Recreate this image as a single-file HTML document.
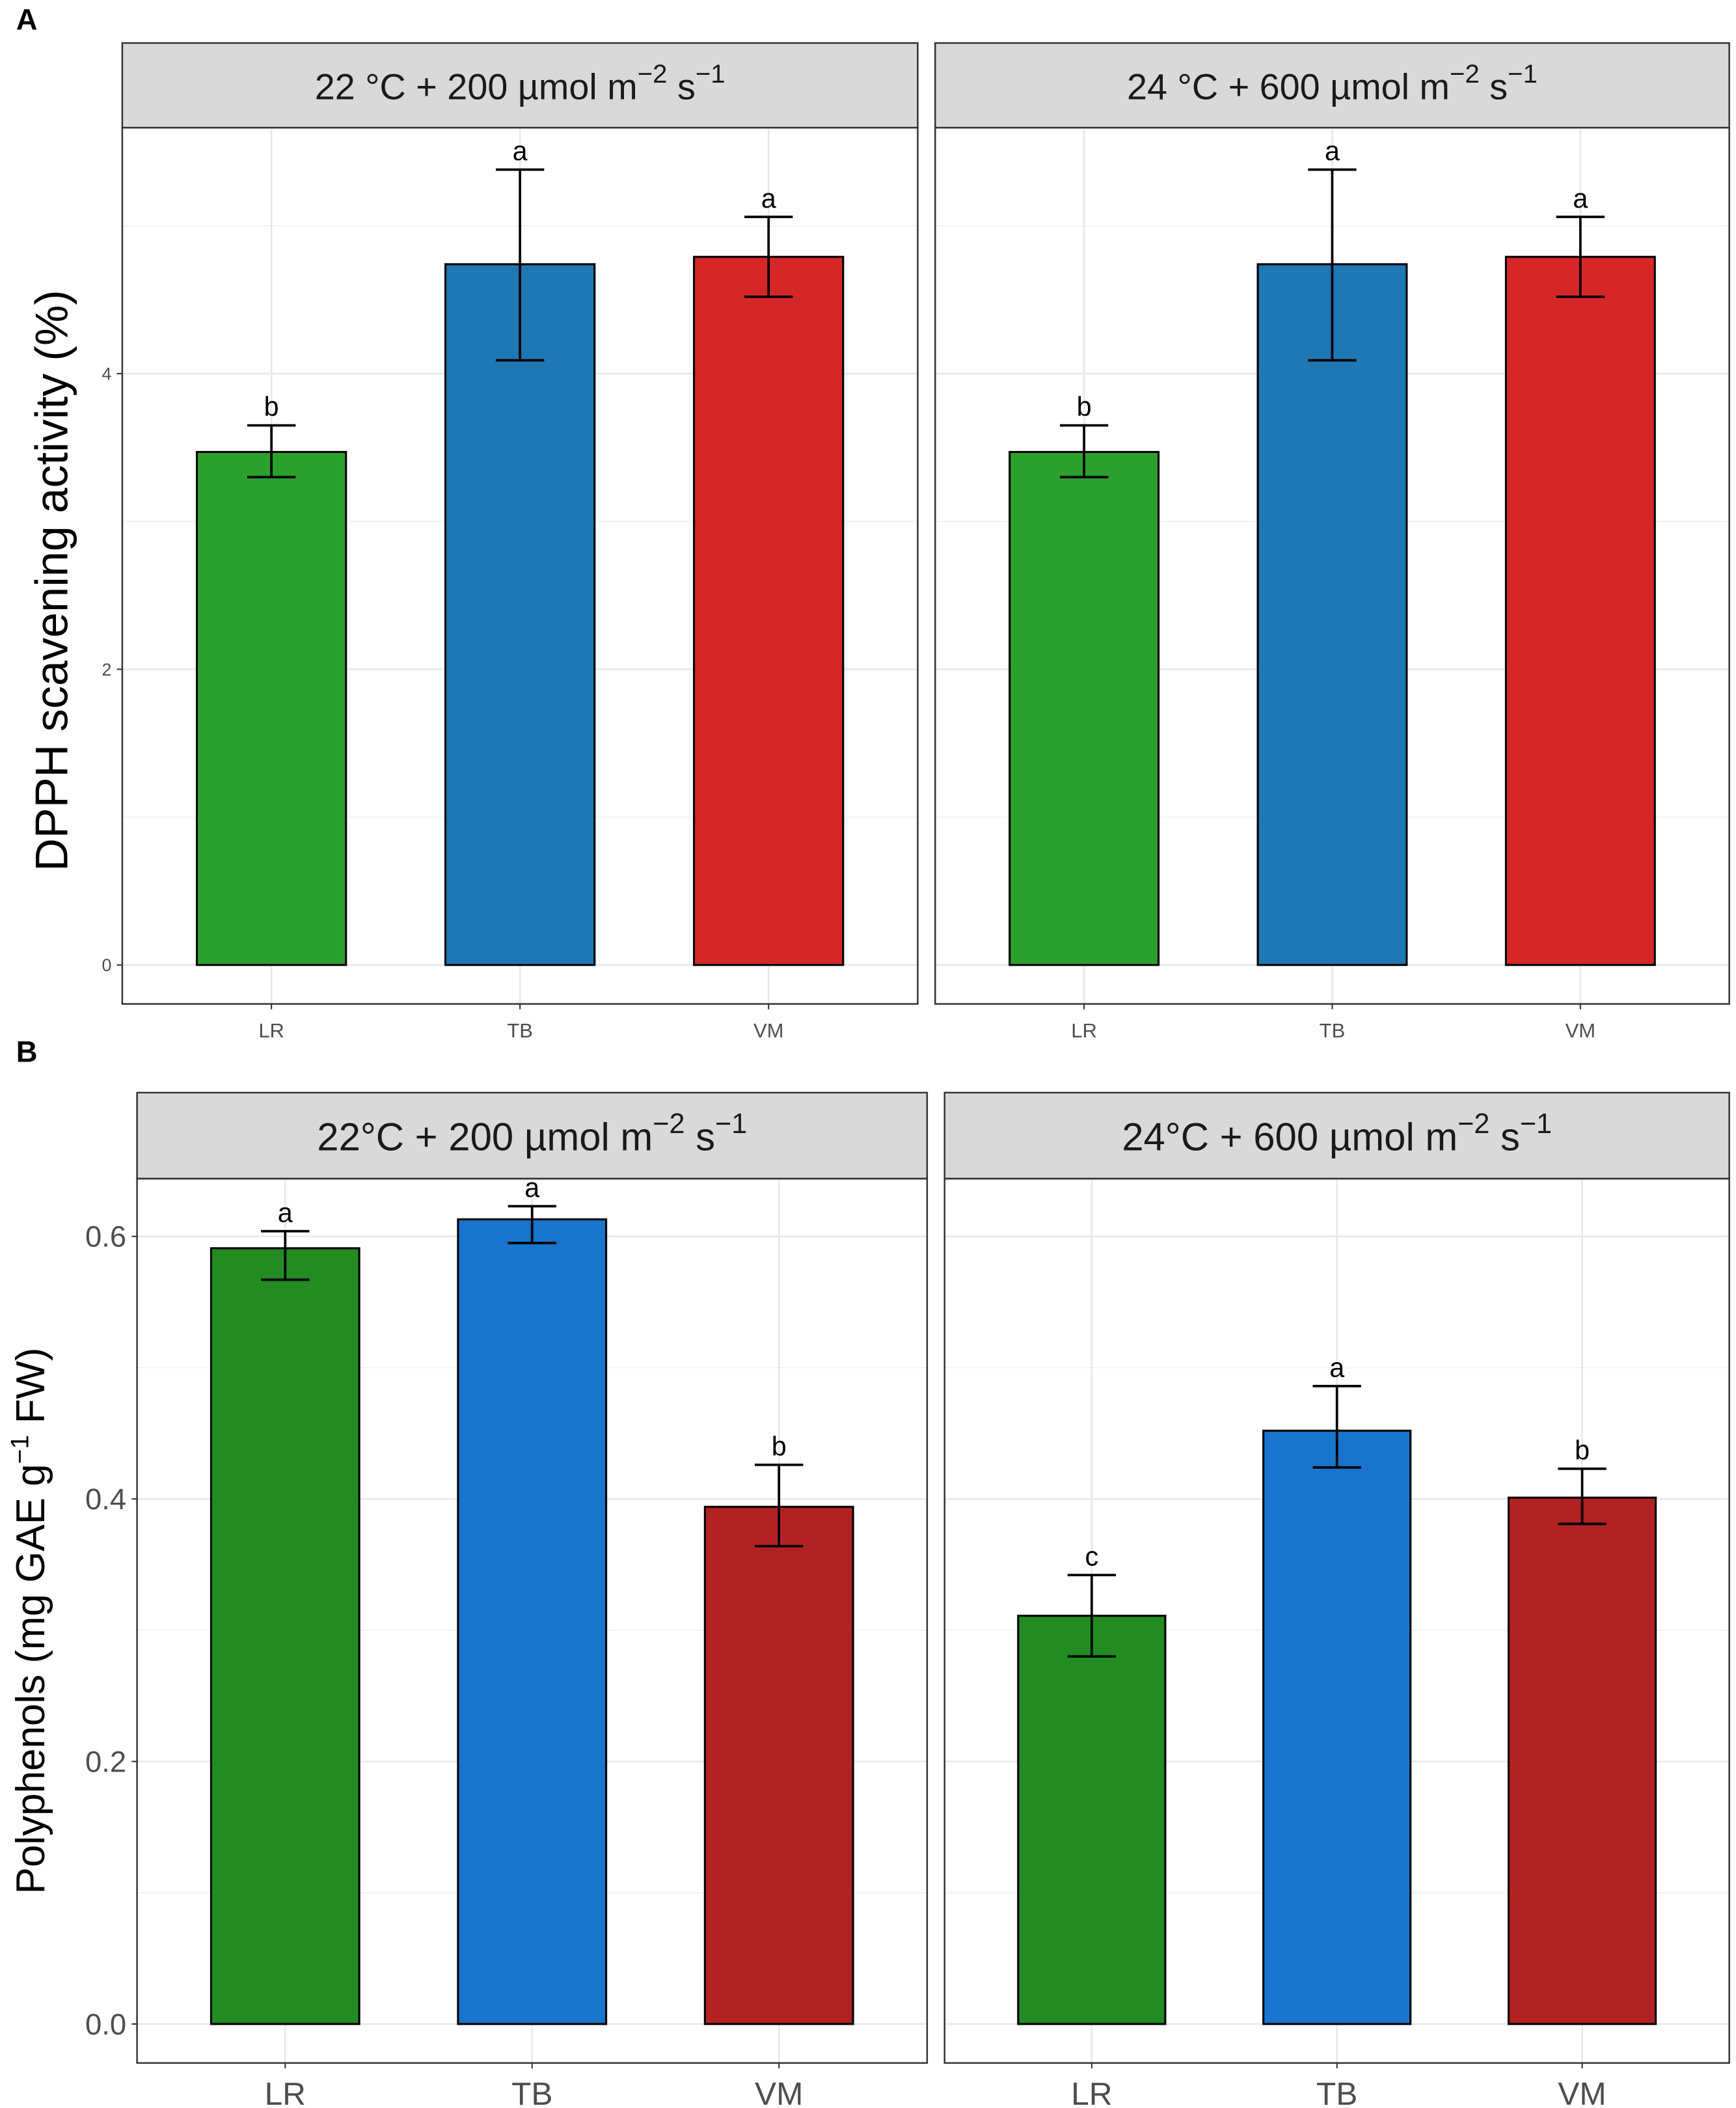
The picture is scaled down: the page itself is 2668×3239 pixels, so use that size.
<!DOCTYPE html>
<html><head><meta charset="utf-8"><style>html,body{margin:0;padding:0;background:#fff}svg{display:block}</style></head>
<body>
<svg id="chart" xmlns="http://www.w3.org/2000/svg" width="2668" height="3239" viewBox="0 0 1292 1568.5" preserveAspectRatio="none" font-family="Liberation Sans, sans-serif">
<rect width="1292" height="1568.5" fill="#fff"/>
<text x="12" y="22" font-size="22" font-weight="bold">A</text>
<text x="12" y="790" font-size="22" font-weight="bold">B</text>
<text transform="translate(50,432) rotate(-90)" text-anchor="middle" font-size="34">DPPH scavening activity (%)</text>
<text transform="translate(33,1206) rotate(-90)" text-anchor="middle" font-size="30">Polyphenols (mg GAE g<tspan dy="-12" font-size="19">−1</tspan><tspan dy="12"> FW)</tspan></text>
<g id="g"></g>
</svg>
<script>
const categories = ["LR","TB","VM"];
const aStrips = ["22 °C + 200 µmol m","24 °C + 600 µmol m"];
const aMeans = [[3.47,4.74,4.79],[3.47,4.74,4.79]];
const aLow = [[3.30,4.09,4.52],[3.30,4.09,4.52]];
const aHigh = [[3.65,5.38,5.06],[3.65,5.38,5.06]];
const aLetters = [["b","a","a"],["b","a","a"]];
const aTicks = [0,2,4];
const bStrips = ["22°C + 200 µmol m","24°C + 600 µmol m"];
const bMeans = [[0.591,0.613,0.394],[0.311,0.452,0.401]];
const bLow = [[0.567,0.595,0.364],[0.280,0.424,0.381]];
const bHigh = [[0.604,0.623,0.426],[0.342,0.486,0.423]];
const bLetters = [["a","a","b"],["c","a","b"]];
const bTicks = [0,0.2,0.4,0.6];

const NS="http://www.w3.org/2000/svg";
const root=document.getElementById('g');
function el(t,a,p){const e=document.createElementNS(NS,t);for(const k in a)e.setAttribute(k,a[k]);(p||root).appendChild(e);return e;}

function panel(cfg){
  const {x0,x1,stripTop,top,bottom,y0px,pxPerUnit,means,low,high,letters,strip,colors,ticks,minors,showY,tickFs,xFs,xLabY,stripFs,letFs,tickFmt}=cfg;
  const y=v=>y0px-v*pxPerUnit;
  const unit=(x1-x0)/3.2;
  const xs=i=>x0+(i+0.6)*unit;
  const bw=0.6*unit;
  const g=el('g',{});
  
  
  const s=el('rect',{x:x0,y:stripTop,width:x1-x0,height:top-stripTop,fill:'#d9d9d9',stroke:'#333','stroke-width':1.2},g);
  
  
  const st=el('text',{x:(x0+x1)/2,y:stripTop+(top-stripTop)/2+stripFs*0.38,'text-anchor':'middle','font-size':stripFs,fill:'#1a1a1a'},g);
  st.textContent=strip;
  const sup=el('tspan',{dy:-stripFs*0.45,'font-size':stripFs*0.72},st);sup.textContent='−2';
  const t2=el('tspan',{dy:stripFs*0.45},st);t2.textContent=' s';
  const sup2=el('tspan',{dy:-stripFs*0.45,'font-size':stripFs*0.72},st);sup2.textContent='−1';
  
  
  minors.forEach(v=>{if(y(v)>top)el('line',{x1:x0,x2:x1,y1:y(v),y2:y(v),stroke:'#f0f0f0','stroke-width':0.8},g);});
  ticks.forEach(v=>{el('line',{x1:x0,x2:x1,y1:y(v),y2:y(v),stroke:'#e8e8e8','stroke-width':1.3},g);
    if(showY){const tl=el('text',{x:x0-8,y:y(v)+tickFs*0.35,'text-anchor':'end','font-size':tickFs,fill:'#4d4d4d'},g);tl.textContent=tickFmt(v);
      
      
      el('line',{x1:x0-4,x2:x0,y1:y(v),y2:y(v),stroke:'#333'},g);}});
  categories.forEach((c,i)=>{el('line',{x1:xs(i),x2:xs(i),y1:top,y2:bottom,stroke:'#e8e8e8','stroke-width':1.3},g);});
  categories.forEach((c,i)=>{
    const b=el('rect',{x:xs(i)-bw/2,y:y(means[i]),width:bw,height:y(0)-y(means[i]),fill:colors[i],stroke:'#000','stroke-width':1.5},g);
    
    
    const w=cfg.whisk;
    const e=el('path',{d:`M${xs(i)-w},${y(high[i])}H${xs(i)+w}M${xs(i)},${y(high[i])}V${y(low[i])}M${xs(i)-w},${y(low[i])}H${xs(i)+w}`,stroke:'#000','stroke-width':1.8,fill:'none'},g);
    
    
    const l=el('text',{x:xs(i),y:y(high[i])-7,'text-anchor':'middle','font-size':letFs,fill:'#000'},g);l.textContent=letters[i];
    
    
    el('line',{x1:xs(i),x2:xs(i),y1:bottom,y2:bottom+4,stroke:'#333'},g);
    const xl=el('text',{x:xs(i),y:xLabY,'text-anchor':'middle','font-size':xFs,fill:'#4d4d4d'},g);xl.textContent=c;
    
    
  });
  el('rect',{x:x0,y:top,width:x1-x0,height:bottom-top,fill:'none',stroke:'#333','stroke-width':1.2},g);
}
const colA=['#2ca02c','#1f77b4','#d62728'], colB=['#228b22','#1874cd','#b22222'];
[[91,683],[696,1287]].forEach((p,k)=>panel({id:'a'+(k+1),x0:p[0],x1:p[1],stripTop:32,top:95,bottom:747,y0px:718,pxPerUnit:110,
  means:aMeans[k],low:aLow[k],high:aHigh[k],letters:aLetters[k],strip:aStrips[k],colors:colA,ticks:aTicks,minors:[1,3,5],
  showY:k==0,tickFs:13,xFs:15,xLabY:772,stripFs:27,letFs:20,whisk:18,tickFmt:v=>String(v)}));
[[102,690],[703,1287]].forEach((p,k)=>panel({id:'b'+(k+1),x0:p[0],x1:p[1],stripTop:813,top:877,bottom:1535,y0px:1506,pxPerUnit:976.7,
  means:bMeans[k],low:bLow[k],high:bHigh[k],letters:bLetters[k],strip:bStrips[k],colors:colB,ticks:bTicks,minors:[0.1,0.3,0.5],
  showY:k==0,tickFs:22,xFs:24,xLabY:1566,stripFs:29,letFs:20,whisk:18,tickFmt:v=>v.toFixed(1)}));
</script>
</body></html>
